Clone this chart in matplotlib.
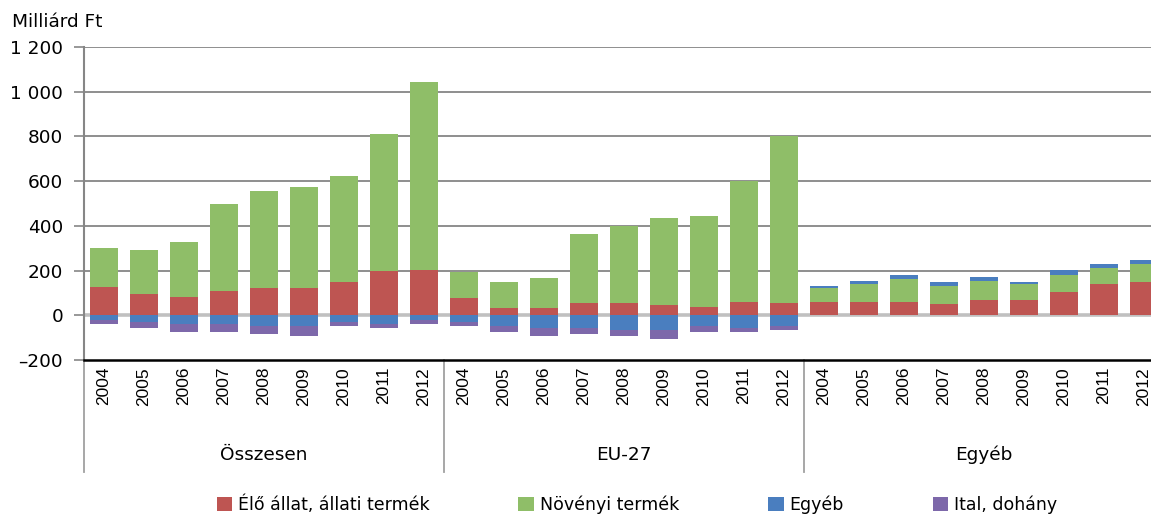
import matplotlib
matplotlib.use("Agg")
import matplotlib.pyplot as plt
import matplotlib.transforms as mtransforms
import numpy as np

plt.rcParams['font.family'] = ['DejaVu Sans']

years = ["2004", "2005", "2006", "2007", "2008", "2009", "2010", "2011", "2012"]
groups = ["Összesen", "EU-27", "Egyéb"]

# Élő állat, állati termék
elo = [126, 96, 81, 108, 121, 121, 148, 197, 201,
       77, 32, 32, 55, 55, 46, 37, 60, 55,
       58, 58, 58, 49, 67, 67, 102, 138, 147]
# Növényi termék
noveny = [177, 194, 249, 392, 434, 451, 477, 613, 841,
          115, 116, 134, 310, 346, 391, 409, 540, 745,
          62, 80, 106, 80, 88, 71, 80, 75, 84]
# Egyéb
egyeb = [-19, -28, -37, -37, -46, -46, -28, -37, -19,
         -28, -46, -55, -55, -64, -64, -46, -55, -46,
         9, 17, 18, 18, 18, 9, 21, 18, 18]
# Ital, dohány
ital = [-18, -27, -36, -36, -36, -45, -18, -18, -18,
        -18, -27, -36, -27, -27, -44, -27, -18, -18,
        0, 0, 0, 0, 0, 0, 0, 0, 0]

series = [("Élő állat, állati termék", elo, "#BE5552"),
          ("Növényi termék", noveny, "#8FBE68"),
          ("Egyéb", egyeb, "#4A7EBF"),
          ("Ital, dohány", ital, "#7D68AA")]

yticks = [-200, 0, 200, 400, 600, 800, 1000, 1200]
ytick_labels = ["\u2013200", "0", "200", "400", "600", "800", "1 000", "1 200"]

HF = ['DejaVu Sans']
VF = ['Liberation Sans', 'DejaVu Sans']
FS = 13.3
FS_LEG = 12.5
FS_YEAR = 12.5

W, H = 1151, 518
fig = plt.figure(figsize=(W / 100, H / 100), dpi=100)
left, right, top, bottom = 84, 1164, 47, 360
ax = fig.add_axes([left / W, 1 - bottom / H, (right - left) / W, (bottom - top) / H])

n = len(elo)
x = np.arange(n)
pos_acc = np.zeros(n)
neg_acc = np.zeros(n)
for name, vals, col in series:
    v = np.array(vals, dtype=float)
    b = np.where(v >= 0, pos_acc, neg_acc)
    ax.bar(x, v, 0.7, bottom=b, color=col, label=name, zorder=3, linewidth=0)
    pos_acc += np.where(v >= 0, v, 0)
    neg_acc += np.where(v < 0, v, 0)

ax.set_xlim(-0.5, n - 0.5)
ax.set_ylim(-200, 1200)
ax.set_yticks(yticks)
ax.set_yticklabels(ytick_labels, fontsize=FS, family=HF)
for yv in yticks[2:]:
    ax.axhline(yv, color="#868686", lw=1.3, zorder=1)
ax.axhline(0, color="#C0C0C0", lw=2.6, zorder=2)

ax.set_xticks(x)
ax.set_xticklabels(years * 3, rotation=90, fontsize=FS_YEAR, family=VF)
ax.tick_params(axis="x", length=0, pad=5)
ax.tick_params(axis="y", length=7, color="#868686", width=1.2, pad=8)

for s in ["top", "right"]:
    ax.spines[s].set_visible(False)
ax.spines["left"].set_color("#868686")
ax.spines["left"].set_linewidth(1.5)
ax.spines["bottom"].set_color("black")
ax.spines["bottom"].set_linewidth(1.8)

trans = mtransforms.blended_transform_factory(ax.transData, ax.transAxes)
ysep = -(472 - bottom) / (bottom - top)
for k in range(4):
    xs = -0.5 + 9 * k
    ax.plot([xs, xs], [0, ysep], color="#A0A0A0", lw=1.3, transform=trans, clip_on=False)
for k, g in enumerate(groups):
    ax.text(4 + 9 * k, -(455 - bottom) / (bottom - top), g, transform=trans,
            ha="center", va="center", fontsize=FS, family=HF)

fig.text(12 / W, 1 - 22 / H, "Milliárd Ft", fontsize=FS, ha="left", va="center", family=HF)

leg = fig.legend(loc="center", bbox_to_anchor=(637 / W, 1 - 505 / H), ncol=4,
                 frameon=False, prop={'family': HF, 'size': FS_LEG},
                 handlelength=0.9, handleheight=0.9,
                 handletextpad=0.35, columnspacing=5.1)

fig.savefig("out.png", dpi=100)
